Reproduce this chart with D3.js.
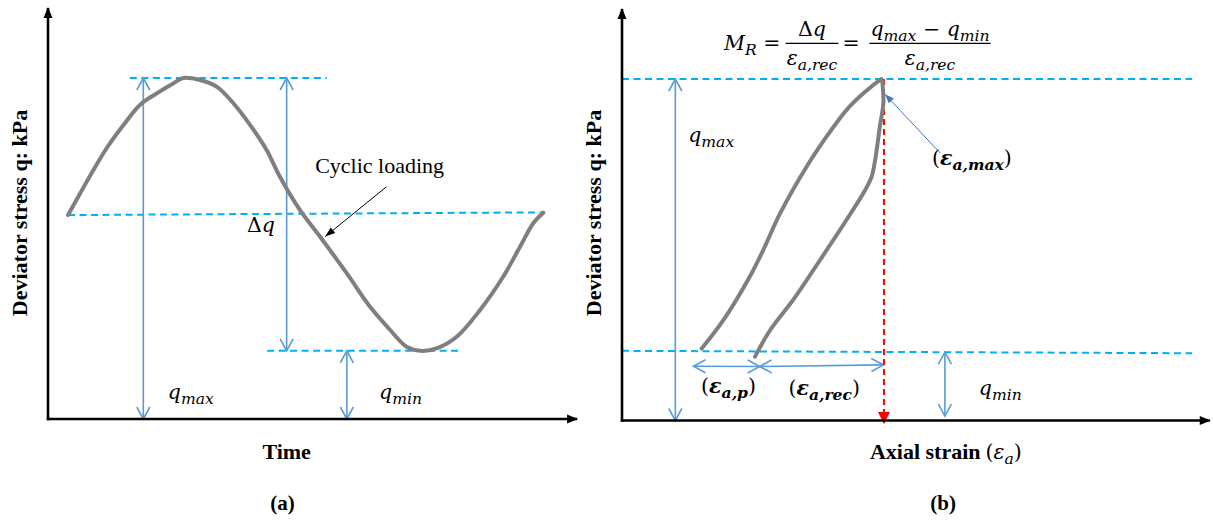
<!DOCTYPE html>
<html><head><meta charset="utf-8">
<script src="https://cdn.jsdelivr.net/npm/d3@7"></script>
<style>body{margin:0;background:#fff} svg{display:block}</style>
</head><body>
<svg id="c" width="1213" height="522"></svg>
<script>
// ---------------- data ----------------
// (a) stress vs time during one loading cycle (time %, q in % of q_max)
const cycleTime   = [3.8, 6.1, 8.6, 11.1, 14.3, 17.4, 20.6, 23.7, 25.6, 28.8, 32.0, 35.1, 38.3, 41.4, 43.9, 47.7, 51.5, 56.6, 61.0, 64.8, 67.9, 70.5, 73.6, 77.4, 81.8, 86.2, 89.4, 91.9, 93.8];
const cycleStress = [59.8, 66.2, 73.0, 79.4, 86.2, 92.1, 95.5, 98.4, 100, 99.4, 97.4, 92.6, 86.2, 78.9, 71.1, 61.3, 53.5, 42.7, 32.9, 26.1, 21.2, 20, 20.7, 24.1, 31.9, 41.7, 50.5, 57.4, 60.5];
// (b) hysteresis loop: loading then unloading branch (strain %, q in % of q_max)
const loopLoadStrain   = [13.6, 17.3, 21.8, 24.1, 27.0, 31.5, 34.9, 38.3, 41.2, 44.0, 44.3];
const loopLoadStress   = [21.1, 29.4, 42.1, 49.9, 60.7, 74.3, 83.1, 90.9, 95.8, 99.7, 100];
const loopUnloadStrain = [44.5, 44.6, 44.0, 43.2, 42.6, 41.5, 38.3, 33.8, 29.2, 25.3, 22.7];
const loopUnloadStress = [97.7, 92.9, 86.0, 76.3, 71.4, 67.5, 58.7, 47.0, 35.3, 26.5, 18.7];
const qMax = 100, qMin = 20;
const meanLineStress = [59.8, 60.6];
const strainMarks = [12.2, 23.5, 44.6];   // start of ε_p, end of ε_p / start of ε_rec, ε_a,max
const strainMaxLine = 44.7;
const panelLabels = ["(a)", "(b)"];
const yTitle = "Deviator stress q: kPa";
const xTitleA = "Time";
const xTitleB = "Axial strain";
const cycleLabel = "Cyclic loading";

// ---------------- setup ----------------
const svg = d3.select("#c");
const TXT = "'Liberation Serif','Times New Roman',serif";
const MATH = "'DejaVu Serif',serif";
const GRAY = "#7f7f7f", DASH = "#00b0f0", BLUE = "#5b9bd5", RED = "#ff0000";
const MS = 20.5; // math font size

const xA = d3.scaleLinear([0, 100], [48, 576]);
const yA = d3.scaleLinear([0, 100], [419, 78]);
const xB = d3.scaleLinear([0, 100], [622, 1208]);
const yB = d3.scaleLinear([0, 100], [420.5, 79]);

const defs = svg.append("defs");
function marker(id, path, w, h, refX, fill, stroke, sw) {
  const m = defs.append("marker").attr("id", id)
    .attr("viewBox", `0 0 ${w} ${h}`).attr("refX", refX).attr("refY", h / 2)
    .attr("markerWidth", w).attr("markerHeight", h)
    .attr("markerUnits", "userSpaceOnUse").attr("orient", "auto-start-reverse")
    .style("overflow", "visible");
  m.append("path").attr("d", path).attr("fill", fill).attr("stroke", stroke || "none")
    .attr("stroke-width", sw || 0).attr("stroke-linejoin", "miter");
}
marker("axHead", "M0,0 L11,4.5 L0,9 Z", 11, 9, 10, "#000");
marker("chev", "M0,0 L12,6.5 L0,13", 12, 13, 12, "none", BLUE, 1.6);
marker("redHead", "M0,0 L12,6 L0,12 Z", 12, 12, 11, RED);
marker("blkHead", "M0,0 L10,3.5 L0,7 Z", 10, 7, 10, "#000");
marker("bluHead", "M0,0 L9,3.5 L0,7 Z", 9, 7, 9, "#4472c4");

function line(g, x1, y1, x2, y2, stroke, sw, dash, m1, m2) {
  const l = g.append("line").attr("x1", x1).attr("y1", y1).attr("x2", x2).attr("y2", y2)
    .attr("stroke", stroke).attr("stroke-width", sw);
  if (dash) l.attr("stroke-dasharray", dash);
  if (m1) l.attr("marker-start", `url(#${m1})`);
  if (m2) l.attr("marker-end", `url(#${m2})`);
  return l;
}
// math text: parts = [[text, kind]] kind: i italic, r roman, s italic subscript, b bold italic, bs bold italic subscript
function math(g, x, y, parts, size, anchor) {
  const t = g.append("text").attr("x", x).attr("y", y)
    .attr("font-family", MATH).attr("font-size", size)
    .attr("text-anchor", anchor || "start").attr("fill", "#000");
  let down = false;
  const shift = size * 0.24;
  parts.forEach(([s, k]) => {
    const ts = t.append("tspan").text(s);
    ts.attr("font-style", k === "r" ? "normal" : "italic");
    ts.attr("font-weight", k[0] === "b" ? "bold" : "normal");
    const sub = k === "s" || k === "bs";
    if (sub) {
      ts.attr("font-size", size * 0.76);
      if (!down) { ts.attr("dy", shift); down = true; }
    } else {
      ts.attr("font-size", size);
      if (down) { ts.attr("dy", -shift); down = false; }
    }
  });
  return t;
}
function frac(g, cx, barY, num, den, size) {
  const n = math(g, cx, barY - 7, num, size, "middle");
  const d = math(g, cx, barY + 22, den, size, "middle");
  const w = Math.max(n.node().getBBox().width, d.node().getBBox().width);
  line(g, cx - w / 2 - 1, barY, cx + w / 2 + 1, barY, "#000", 1.3);
}

// ---------------- panel (a) ----------------
const gA = svg.append("g");
const lineA = d3.line().x(d => xA(d[0])).y(d => yA(d[1])).curve(d3.curveCatmullRom.alpha(0.5));
line(gA, xA(15.5), yA(qMax), xA(52.8), yA(qMax), DASH, 2, "7,4.5");
line(gA, xA(cycleTime[0]), yA(meanLineStress[0]), xA(cycleTime[cycleTime.length - 1]), yA(meanLineStress[1]), DASH, 2, "7,4.5");
line(gA, xA(41.5), yA(qMin), xA(78.4), yA(qMin), DASH, 2, "7,4.5");
line(gA, xA(18.05), yA(0), xA(18.05), yA(qMax), BLUE, 1.6, null, "chev", "chev");
line(gA, xA(45.2), yA(qMin), xA(45.2), yA(qMax), BLUE, 1.6, null, "chev", "chev");
line(gA, xA(56.6), yA(0), xA(56.6), yA(qMin), BLUE, 1.6, null, "chev", "chev");
gA.append("path").datum(cycleTime.map((t, i) => [t, cycleStress[i]]))
  .attr("d", lineA).attr("fill", "none").attr("stroke", GRAY).attr("stroke-width", 4)
  .attr("stroke-linecap", "round").attr("stroke-linejoin", "round");
line(gA, xA(0), yA(0) + 1.2, xA(0), yA(120.5), "#000", 2.6, null, null, "axHead");
line(gA, xA(0) - 1.2, yA(0), xA(100.2), yA(0), "#000", 2.6, null, null, "axHead");
gA.append("text").attr("transform", `translate(27,${yA(60.4)}) rotate(-90)`)
  .attr("text-anchor", "middle").attr("font-family", TXT).attr("font-weight", "bold")
  .attr("font-size", 22).text(yTitle);
gA.append("text").attr("x", xA(45.2)).attr("y", 459).attr("text-anchor", "middle")
  .attr("font-family", TXT).attr("font-weight", "bold").attr("font-size", 22).text(xTitleA);
gA.append("text").attr("x", xA(44.4)).attr("y", 510).attr("text-anchor", "middle")
  .attr("font-family", TXT).attr("font-weight", "bold").attr("font-size", 21).text(panelLabels[0]);
gA.append("text").attr("x", xA(50.6)).attr("y", yA(72.1)).attr("font-family", TXT)
  .attr("font-size", 22).text(cycleLabel);
line(gA, xA(64.1), yA(68.1), xA(52.5), yA(53.5), "#000", 1, null, null, "blkHead");
math(gA, xA(22.7), yA(5.9), [["q", "i"], ["max", "s"]], MS);
math(gA, xA(62.7), yA(5.9), [["q", "i"], ["min", "s"]], MS);
math(gA, xA(37.7), yA(54.8), [["Δ", "r"], ["q", "i"]], MS);

// ---------------- panel (b) ----------------
const gB = svg.append("g");
const lineB = d3.line().x(d => xB(d[0])).y(d => yB(d[1])).curve(d3.curveCatmullRom.alpha(0.5));
line(gB, xB(0), yB(qMax), xB(97.3), yB(qMax), DASH, 2, "7,4.5");
line(gB, xB(0), yB(qMin + 0.4), xB(97.3), yB(qMin - 0.3), DASH, 2, "7,4.5");
line(gB, xB(9.1), yB(0), xB(9.1), yB(qMax), BLUE, 1.6, null, "chev", "chev");
line(gB, xB(55.1), yB(1.3), xB(55.1), yB(qMin), BLUE, 1.6, null, "chev", "chev");
line(gB, xB(strainMarks[0]), yB(15.9), xB(strainMarks[1]), yB(15.8), BLUE, 1.6, null, "chev", "chev");
line(gB, xB(strainMarks[1]), yB(15.8), xB(strainMarks[2]), yB(16.3), BLUE, 1.6, null, "chev", "chev");
line(gB, xB(strainMaxLine), yB(qMax), xB(strainMaxLine), yB(0) + 2.5, RED, 2, "6,4", null, "redHead");
const loopPts = loopLoadStrain.map((e, i) => [e, loopLoadStress[i]])
  .concat(loopUnloadStrain.map((e, i) => [e, loopUnloadStress[i]]));
gB.append("path").datum(loopPts).attr("d", lineB).attr("fill", "none")
  .attr("stroke", GRAY).attr("stroke-width", 4)
  .attr("stroke-linecap", "round").attr("stroke-linejoin", "round");
line(gB, xB(0), yB(0) + 1.2, xB(0), yB(120.5), "#000", 2.6, null, null, "axHead");
line(gB, xB(0) - 1.2, yB(0), xB(100.3), yB(0), "#000", 2.6, null, null, "axHead");
line(gB, xB(54.3), yB(78.3), xB(44.9), yB(95.5), "#4472c4", 1, null, null, "bluHead");
gB.append("text").attr("transform", `translate(601,${yA(60.4)}) rotate(-90)`)
  .attr("text-anchor", "middle").attr("font-family", TXT).attr("font-weight", "bold")
  .attr("font-size", 22).text(yTitle);
const xt = gB.append("text").attr("x", xB(42.3)).attr("y", 459)
  .attr("font-family", TXT).attr("font-weight", "bold").attr("font-size", 22).text(xTitleB);
const xtw = xt.node().getComputedTextLength();
math(gB, xB(42.3) + xtw + 5, 459, [["(", "r"], ["ε", "i"], ["a", "s"], [")", "r"]], MS);
gB.append("text").attr("x", xB(54.8)).attr("y", 510).attr("text-anchor", "middle")
  .attr("font-family", TXT).attr("font-weight", "bold").attr("font-size", 21).text(panelLabels[1]);
math(gB, xB(11.3), yB(81.6), [["q", "i"], ["max", "s"]], MS);
math(gB, xB(60.9), yB(7.5), [["q", "i"], ["min", "s"]], MS);
math(gB, xB(52.9), yB(74.8), [["(", "r"], ["ε", "b"], ["a,max", "bs"], [")", "r"]], MS);
math(gB, xB(13.5), yB(8.1), [["(", "r"], ["ε", "b"], ["a,p", "bs"], [")", "r"]], MS);
math(gB, xB(28.4), yB(7.5), [["(", "r"], ["ε", "b"], ["a,rec", "bs"], [")", "r"]], MS);
math(gB, 724, 50, [["M", "i"], ["R", "s"], [" =", "r"]], MS);
frac(gB, 812, 43.3, [["Δ", "r"], ["q", "i"]], [["ε", "i"], ["a,rec", "s"]], MS);
math(gB, 851, 50, [["=", "r"]], MS, "middle");
frac(gB, 930, 43.3, [["q", "i"], ["max", "s"], [" − ", "r"], ["q", "i"], ["min", "s"]], [["ε", "i"], ["a,rec", "s"]], MS);
</script>
</body></html>
